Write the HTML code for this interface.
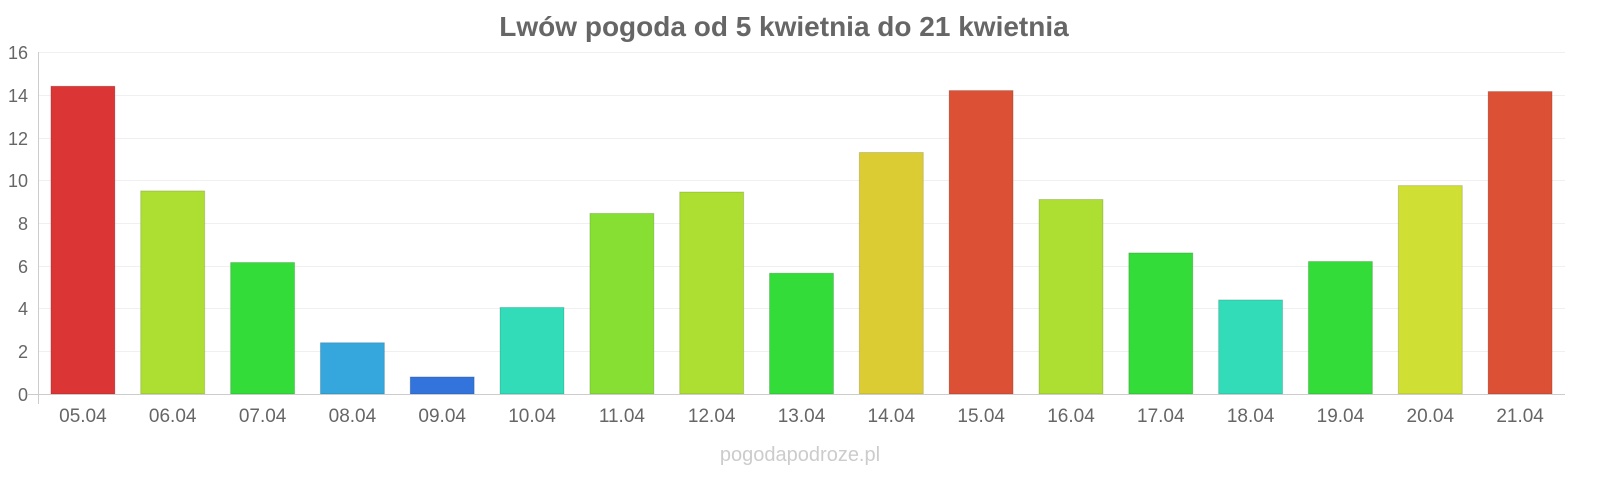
<!DOCTYPE html>
<html><head><meta charset="utf-8"><style>
body{margin:0;background:#fff;}
svg text{font-family:"Liberation Sans",sans-serif;}
</style></head><body>
<svg width="1600" height="480" xmlns="http://www.w3.org/2000/svg">
<rect width="1600" height="480" fill="#fff"/>
<text x="784" y="36" text-anchor="middle" font-size="28" font-weight="bold" fill="#666">Lwów pogoda od 5 kwietnia do 21 kwietnia</text>
<g stroke="#f0f0f0" stroke-width="1">
<line x1="38" x2="1565" y1="52.5" y2="52.5"/><line x1="38" x2="1565" y1="95.5" y2="95.5"/>
<line x1="38" x2="1565" y1="138.5" y2="138.5"/><line x1="38" x2="1565" y1="180.5" y2="180.5"/>
<line x1="38" x2="1565" y1="223.5" y2="223.5"/><line x1="38" x2="1565" y1="266.5" y2="266.5"/>
<line x1="38" x2="1565" y1="308.5" y2="308.5"/><line x1="38" x2="1565" y1="351.5" y2="351.5"/>
</g>
<g font-size="18" fill="#666" text-anchor="end">
<text x="28" y="59">16</text><text x="28" y="102">14</text><text x="28" y="145">12</text>
<text x="28" y="187">10</text><text x="28" y="230">8</text><text x="28" y="273">6</text>
<text x="28" y="315">4</text><text x="28" y="358">2</text><text x="28" y="401">0</text>
</g>
<g stroke="rgba(0,0,0,0.15)" stroke-width="1">
<rect x="50.9" y="86.2" width="64" height="307.8" fill="#dc3535"/>
<rect x="140.7" y="190.9" width="64" height="203.1" fill="#addf33"/>
<rect x="230.6" y="262.5" width="64" height="131.5" fill="#33dc38"/>
<rect x="320.4" y="342.7" width="64" height="51.3" fill="#35a7dc"/>
<rect x="410.2" y="376.9" width="64" height="17.1" fill="#3374dc"/>
<rect x="500.0" y="307.4" width="64" height="86.6" fill="#33dcb9"/>
<rect x="589.9" y="213.4" width="64" height="180.6" fill="#88df33"/>
<rect x="679.7" y="192.0" width="64" height="202.0" fill="#addf33"/>
<rect x="769.5" y="273.2" width="64" height="120.8" fill="#33dc38"/>
<rect x="859.3" y="152.5" width="64" height="241.5" fill="#dccc33"/>
<rect x="949.1" y="90.5" width="64" height="303.5" fill="#dc5035"/>
<rect x="1039.0" y="199.5" width="64" height="194.5" fill="#addf33"/>
<rect x="1128.8" y="252.9" width="64" height="141.1" fill="#33dc38"/>
<rect x="1218.6" y="299.9" width="64" height="94.1" fill="#33dcb9"/>
<rect x="1308.4" y="261.5" width="64" height="132.5" fill="#33dc38"/>
<rect x="1398.3" y="185.6" width="64" height="208.4" fill="#cfdf33"/>
<rect x="1488.1" y="91.5" width="64" height="302.5" fill="#dc5035"/>
</g>
<g font-size="19" fill="#666" text-anchor="middle">
<text x="82.9" y="422">05.04</text><text x="172.7" y="422">06.04</text><text x="262.6" y="422">07.04</text>
<text x="352.4" y="422">08.04</text><text x="442.2" y="422">09.04</text><text x="532.0" y="422">10.04</text>
<text x="621.9" y="422">11.04</text><text x="711.7" y="422">12.04</text><text x="801.5" y="422">13.04</text>
<text x="891.3" y="422">14.04</text><text x="981.2" y="422">15.04</text><text x="1071.0" y="422">16.04</text>
<text x="1160.8" y="422">17.04</text><text x="1250.6" y="422">18.04</text><text x="1340.4" y="422">19.04</text>
<text x="1430.3" y="422">20.04</text><text x="1520.1" y="422">21.04</text>
</g>
<line x1="38.5" x2="38.5" y1="52" y2="404" stroke="#ccc"/>
<line x1="28" x2="1565" y1="394.5" y2="394.5" stroke="#ccc"/>
<text x="800" y="461" text-anchor="middle" font-size="20" fill="#ccc">pogodapodroze.pl</text>
</svg>
</body></html>
